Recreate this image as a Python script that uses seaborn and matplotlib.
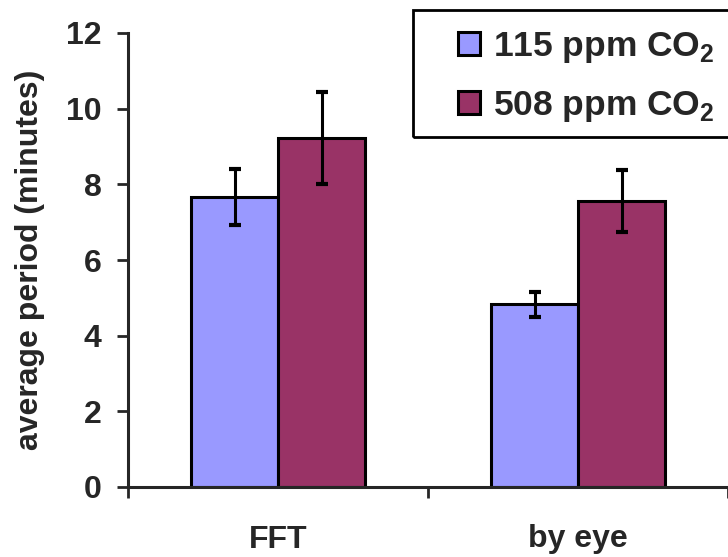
"""Average period bar chart: FFT vs by-eye estimates at two CO2 levels."""

import matplotlib
matplotlib.use("Agg")
import matplotlib.pyplot as plt
from matplotlib.patches import Rectangle
import seaborn as sns
import pandas as pd

# data
methods = ["FFT", "by eye"]
conditions = ["115 ppm CO$_\\mathbf{2}$", "508 ppm CO$_\\mathbf{2}$"]
period_115 = [7.67, 4.83]
period_508 = [9.22, 7.56]
err_115 = [0.74, 0.33]
err_508 = [1.21, 0.83]
colors = ["#9999FF", "#993366"]

df = pd.DataFrame({
    "method": methods * 2,
    "condition": [conditions[0]] * 2 + [conditions[1]] * 2,
    "period": period_115 + period_508,
})
errors = err_115 + err_508

sns.set_style("ticks")
plt.rcParams["font.family"] = ["Liberation Sans", "DejaVu Sans"]
plt.rcParams["font.weight"] = "bold"
plt.rcParams["mathtext.fontset"] = "custom"
plt.rcParams["mathtext.bf"] = "Liberation Sans:bold"
plt.rcParams["mathtext.rm"] = "Liberation Sans:bold"

fig = plt.figure(figsize=(7.28, 5.57), dpi=100)
ax = fig.add_axes([128 / 728, 70 / 557, 600 / 728, 454 / 557])

sns.barplot(
    data=df, x="method", y="period", hue="condition",
    palette=colors, saturation=1, width=0.58, gap=0, errorbar=None,
    edgecolor="black", linewidth=2.2, ax=ax, legend=True,
)

# error bars placed at the bar centres seaborn produced
for bar, err in zip(ax.patches[:4], errors):
    xc = bar.get_x() + bar.get_width() / 2
    ax.errorbar(xc, bar.get_height(), yerr=err, fmt="none", ecolor="black",
                elinewidth=2.2, capsize=4, capthick=3, zorder=5)

ax.set_xlim(-0.5, 1.5)
ax.set_ylim(0, 12)
ax.set_yticks(range(0, 13, 2))
ax.tick_params(axis="y", labelsize=23, length=8, width=2, pad=11, direction="out")

# ticks at category boundaries, labels between them
ax.set_xticks([-0.5, 0.5, 1.5])
ax.set_xticklabels([])
ax.set_xticks([0, 1], minor=True)
ax.set_xticklabels(methods, minor=True, fontsize=23, fontweight="bold")
ax.tick_params(axis="x", which="major", length=8, width=2, direction="out")
ax.tick_params(axis="x", which="minor", length=0, pad=27)

for lab in ax.get_yticklabels():
    lab.set_fontweight("bold")

ax.set_xlabel("")
ax.set_ylabel("average period (minutes)", fontsize=23, fontweight="bold", labelpad=15)

sns.despine(ax=ax, top=True, right=True)
ax.spines["left"].set_linewidth(2.2)
ax.spines["bottom"].set_linewidth(2.2)

# legend in a box running off the right edge
handles, labels = ax.get_legend_handles_labels()
ax.legend_.remove()
fig.legend(
    handles, labels, loc="upper left", bbox_to_anchor=(458 / 728, 1 - 30 / 557),
    frameon=False, prop={"weight": "bold", "size": 25.5},
    handlelength=0.62, handleheight=0.62, handletextpad=0.38, labelspacing=0.68,
    borderpad=0, borderaxespad=0,
)
fig.patches.append(Rectangle((413 / 728, 1 - 137 / 557), 330 / 728, 127 / 557,
                             transform=fig.transFigure, fill=False,
                             edgecolor="black", linewidth=2))

fig.savefig("out.png", dpi=100)
